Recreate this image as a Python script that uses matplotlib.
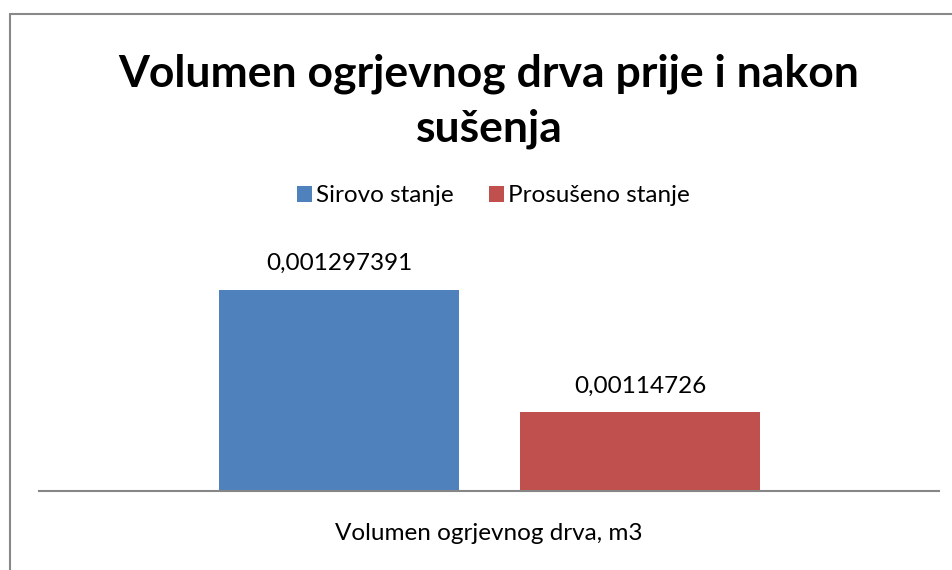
import matplotlib
matplotlib.use('Agg')
import matplotlib.pyplot as plt
from matplotlib.patches import Rectangle

plt.rcParams['font.family'] = ['Lato', 'DejaVu Sans']

series = ['Sirovo stanje', 'Prosušeno stanje']
values = [0.001297391, 0.00114726]
colors = ['#4F81BD', '#C0504D']
category = 'Volumen ogrjevnog drva, m3'
title = 'Volumen ogrjevnog drva prije i nakon\nsušenja'

W, H = 952, 570
fig = plt.figure(figsize=(W / 100, H / 100), dpi=100)

# outer chart frame (cut off on the right and bottom)
fig.patches.append(Rectangle((9.5 / W, -0.1), 1.2, (H - 14) / H + 0.1,
                             transform=fig.transFigure, fill=False,
                             edgecolor='#888888', linewidth=1.5))

ax = fig.add_axes([39 / W, (H - 491) / H, 900 / W, 244 / H])
xpos = [1 / 3, 2 / 3 + 0.001]
bars = []
for x, v, c, s in zip(xpos, values, colors, series):
    b = ax.bar(x, v, width=0.267, color=c, label=s)
    bars.append(b)
    ax.text(x, v + 0.000032, str(v).replace('.', ','), ha='center',
            va='center', fontsize=17.5)

ax.set_xlim(0, 1)
ax.set_ylim(0.00105, 0.00135)
for sp in ['top', 'right', 'left']:
    ax.spines[sp].set_visible(False)
ax.spines['bottom'].set_color('#868686')
ax.spines['bottom'].set_linewidth(1.5)
ax.set_yticks([])
ax.set_xticks([0.5])
ax.set_xticklabels([category], fontsize=17.5)
ax.tick_params(axis='x', length=0, pad=23)

fig.text(489 / W, 1 - 101 / H, title, ha='center', va='center',
         fontsize=32, fontweight='bold', linespacing=1.45)

fig.legend(handles=[b[0] for b in bars], labels=series, loc='center',
           bbox_to_anchor=(493.5 / W, 1 - 196 / H), ncol=2, frameon=False,
           fontsize=17.5, handlelength=0.6, handleheight=0.6,
           handletextpad=0.17, columnspacing=1.45)

fig.savefig('out.png', dpi=100)
